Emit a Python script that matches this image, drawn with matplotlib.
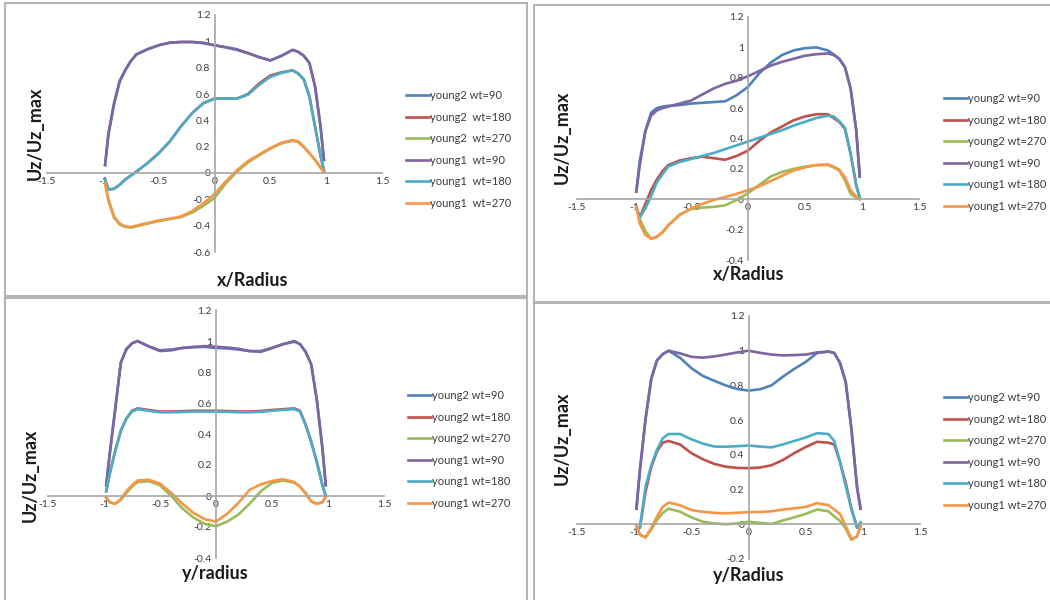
import matplotlib
matplotlib.use("Agg")
import matplotlib.pyplot as plt
from matplotlib.patches import Rectangle

plt.rcParams["font.family"] = ["Lato", "DejaVu Sans"]

# common sample positions (fraction of radius)
r = [-0.98, -0.95, -0.9, -0.85, -0.8, -0.75, -0.7, -0.6, -0.5, -0.4, -0.3, -0.2, -0.1, 0,
     0.1, 0.2, 0.3, 0.4, 0.5, 0.6, 0.7, 0.75, 0.8, 0.85, 0.9, 0.95, 0.98]

colors = ["#4F81BD", "#C0504D", "#9BBB59", "#8064A2", "#4BACC6", "#F79646"]

# --- top left: x/Radius ---
tl_y2_90 = [0.06, 0.29, 0.52, 0.69, 0.78, 0.85, 0.90, 0.94, 0.97, 0.99, 0.995, 0.995, 0.985, 0.97,
            0.955, 0.935, 0.91, 0.88, 0.855, 0.89, 0.935, 0.92, 0.89, 0.835, 0.66, 0.35, 0.10]
tl_y2_180 = [-0.05, -0.125, -0.12, -0.09, -0.05, -0.02, 0.01, 0.075, 0.15, 0.24, 0.355, 0.455, 0.53, 0.565,
             0.565, 0.565, 0.60, 0.68, 0.74, 0.765, 0.78, 0.755, 0.71, 0.58, 0.355, 0.13, 0.02]
tl_y2_270 = [-0.08, -0.21, -0.34, -0.39, -0.41, -0.415, -0.405, -0.385, -0.365, -0.35, -0.335, -0.30, -0.25, -0.19,
             -0.08, 0.01, 0.08, 0.135, 0.185, 0.225, 0.245, 0.235, 0.195, 0.15, 0.10, 0.04, 0.01]
tl_y1_90 = [0.06, 0.30, 0.53, 0.70, 0.78, 0.85, 0.90, 0.94, 0.97, 0.99, 0.995, 0.995, 0.99, 0.97,
            0.955, 0.94, 0.91, 0.88, 0.855, 0.89, 0.935, 0.92, 0.89, 0.835, 0.66, 0.35, 0.10]
tl_y1_180 = [-0.05, -0.125, -0.12, -0.09, -0.05, -0.02, 0.01, 0.075, 0.15, 0.24, 0.355, 0.455, 0.53, 0.565,
             0.565, 0.565, 0.595, 0.67, 0.73, 0.76, 0.78, 0.755, 0.71, 0.58, 0.355, 0.13, 0.02]
tl_y1_270 = [-0.08, -0.20, -0.33, -0.385, -0.405, -0.41, -0.40, -0.38, -0.36, -0.347, -0.33, -0.29, -0.23, -0.16,
             -0.065, 0.02, 0.09, 0.14, 0.19, 0.23, 0.25, 0.24, 0.20, 0.15, 0.10, 0.04, 0.01]

# --- top right: x/Radius ---
tr_y2_90 = [0.05, 0.25, 0.45, 0.57, 0.60, 0.61, 0.615, 0.62, 0.63, 0.635, 0.64, 0.645, 0.685, 0.74,
            0.83, 0.90, 0.95, 0.98, 0.995, 1.0, 0.98, 0.955, 0.925, 0.87, 0.73, 0.45, 0.15]
tr_y2_180 = [-0.05, -0.12, -0.03, 0.06, 0.13, 0.185, 0.225, 0.255, 0.27, 0.28, 0.27, 0.26, 0.285, 0.32,
             0.385, 0.44, 0.48, 0.52, 0.545, 0.56, 0.56, 0.535, 0.51, 0.465, 0.30, 0.09, 0.01]
tr_y2_270 = [-0.05, -0.13, -0.21, -0.26, -0.25, -0.215, -0.175, -0.10, -0.065, -0.055, -0.05, -0.04, -0.005, 0.04,
             0.095, 0.15, 0.18, 0.20, 0.215, 0.225, 0.225, 0.21, 0.19, 0.125, 0.035, 0.01, 0.0]
tr_y1_90 = [0.05, 0.22, 0.45, 0.55, 0.585, 0.60, 0.61, 0.63, 0.65, 0.69, 0.73, 0.76, 0.78, 0.81,
            0.845, 0.88, 0.905, 0.925, 0.945, 0.955, 0.96, 0.95, 0.925, 0.87, 0.73, 0.45, 0.15]
tr_y1_180 = [-0.05, -0.12, -0.06, 0.02, 0.11, 0.165, 0.215, 0.245, 0.265, 0.285, 0.305, 0.33, 0.355, 0.38,
             0.405, 0.43, 0.455, 0.485, 0.51, 0.535, 0.55, 0.545, 0.515, 0.47, 0.30, 0.09, 0.01]
tr_y1_270 = [-0.05, -0.16, -0.235, -0.26, -0.245, -0.22, -0.17, -0.105, -0.06, -0.03, -0.005, 0.015, 0.035, 0.06,
             0.085, 0.12, 0.155, 0.19, 0.21, 0.225, 0.23, 0.215, 0.195, 0.145, 0.06, 0.015, 0.0]

# --- bottom left: y/radius ---
bl_y2_90 = [0.07, 0.27, 0.56, 0.86, 0.945, 0.985, 1.0, 0.965, 0.94, 0.945, 0.955, 0.96, 0.962, 0.955,
            0.952, 0.945, 0.935, 0.935, 0.955, 0.98, 0.995, 0.98, 0.93, 0.85, 0.62, 0.31, 0.07]
bl_y2_180 = [0.03, 0.14, 0.29, 0.42, 0.50, 0.55, 0.565, 0.555, 0.545, 0.545, 0.547, 0.55, 0.55, 0.55,
             0.548, 0.545, 0.545, 0.548, 0.555, 0.56, 0.565, 0.55, 0.46, 0.35, 0.22, 0.07, 0.0]
bl_y2_270 = [-0.01, -0.04, -0.05, -0.025, 0.02, 0.06, 0.09, 0.095, 0.07, 0.0, -0.08, -0.14, -0.18, -0.195,
             -0.165, -0.12, -0.05, 0.03, 0.085, 0.10, 0.085, 0.06, 0.015, -0.035, -0.05, -0.04, -0.005]
bl_y1_90 = [0.07, 0.26, 0.56, 0.86, 0.95, 0.985, 1.0, 0.965, 0.935, 0.94, 0.955, 0.962, 0.967, 0.963,
            0.958, 0.95, 0.935, 0.93, 0.955, 0.98, 1.0, 0.98, 0.93, 0.85, 0.62, 0.31, 0.07]
bl_y1_180 = [0.03, 0.14, 0.29, 0.42, 0.50, 0.545, 0.56, 0.55, 0.54, 0.54, 0.542, 0.545, 0.545, 0.545,
             0.543, 0.54, 0.54, 0.543, 0.55, 0.556, 0.56, 0.545, 0.46, 0.35, 0.22, 0.07, 0.0]
bl_y1_270 = [-0.01, -0.04, -0.05, -0.02, 0.03, 0.07, 0.10, 0.105, 0.08, 0.02, -0.05, -0.11, -0.15, -0.165,
             -0.115, -0.045, 0.04, 0.075, 0.097, 0.108, 0.09, 0.06, 0.02, -0.035, -0.05, -0.04, -0.005]

# --- bottom right: y/Radius ---
br_y2_90 = [0.09, 0.31, 0.61, 0.84, 0.945, 0.98, 1.0, 0.96, 0.90, 0.855, 0.827, 0.80, 0.78, 0.77,
            0.778, 0.80, 0.85, 0.895, 0.935, 0.987, 0.995, 0.987, 0.93, 0.82, 0.55, 0.21, 0.09]
br_y2_180 = [-0.03, -0.02, 0.19, 0.33, 0.42, 0.47, 0.48, 0.46, 0.41, 0.375, 0.348, 0.332, 0.325, 0.323,
             0.327, 0.34, 0.37, 0.41, 0.445, 0.475, 0.47, 0.46, 0.36, 0.24, 0.09, -0.02, 0.01]
br_y2_270 = [-0.01, -0.06, -0.075, -0.03, 0.025, 0.065, 0.09, 0.073, 0.04, 0.015, 0.005, 0.0, 0.005, 0.015,
             0.008, 0.002, 0.022, 0.04, 0.06, 0.085, 0.075, 0.045, 0.02, -0.025, -0.09, -0.07, -0.01]
br_y1_90 = [0.09, 0.31, 0.61, 0.84, 0.945, 0.98, 1.0, 0.985, 0.965, 0.96, 0.967, 0.978, 0.99, 1.0,
            0.988, 0.978, 0.973, 0.975, 0.978, 0.99, 0.995, 0.987, 0.93, 0.82, 0.55, 0.21, 0.09]
br_y1_180 = [-0.03, -0.02, 0.22, 0.34, 0.43, 0.495, 0.52, 0.52, 0.49, 0.465, 0.448, 0.447, 0.45, 0.454,
             0.448, 0.443, 0.46, 0.48, 0.50, 0.525, 0.52, 0.48, 0.36, 0.22, 0.09, -0.02, 0.01]
br_y1_270 = [-0.01, -0.06, -0.075, -0.02, 0.045, 0.10, 0.125, 0.11, 0.082, 0.072, 0.066, 0.063, 0.066, 0.07,
             0.071, 0.075, 0.085, 0.092, 0.10, 0.122, 0.11, 0.085, 0.06, -0.01, -0.085, -0.07, -0.01]

names_tl = ["young2 wt=90", "young2  wt=180", "young2  wt=270",
            "young1  wt=90", "young1  wt=180", "young1  wt=270"]
names = ["young2 wt=90", "young2 wt=180", "young2 wt=270",
         "young1 wt=90", "young1 wt=180", "young1 wt=270"]

panels = [
    # series, labels, ylim, axes box px (x0, x1, ytop, ybot), xlabel, label pos, ylabel pos, legend pos
    ([tl_y2_90, tl_y2_180, tl_y2_270, tl_y1_90, tl_y1_180, tl_y1_270], names_tl, (-0.6, 1.2),
     (47, 382, 15, 252), "x/Radius", (253, 281), (35, 133), (406, 90)),
    ([tr_y2_90, tr_y2_180, tr_y2_270, tr_y1_90, tr_y1_180, tr_y1_270], names, (-0.4, 1.2),
     (577, 919, 17, 260), "x/Radius", (749, 275), (562, 137), (944, 93)),
    ([bl_y2_90, bl_y2_180, bl_y2_270, bl_y1_90, bl_y1_180, bl_y1_270], names, (-0.4, 1.2),
     (48, 384, 310, 558), "y/radius", (215, 574), (30, 475), (408, 390)),
    ([br_y2_90, br_y2_180, br_y2_270, br_y1_90, br_y1_180, br_y1_270], names, (-0.2, 1.2),
     (577, 920, 316, 559), "y/Radius", (749, 575), (562, 438), (944, 392)),
]

W, H = 1050, 600
fig = plt.figure(figsize=(W / 100, H / 100), dpi=100)

# panel frames
for x0, y0, x1, y1 in [(5, 3, 527, 296), (534, 5, 1060, 302), (5, 298, 527, 610), (534, 303, 1060, 610)]:
    fig.patches.append(Rectangle((x0 / W, 1 - y1 / H), (x1 - x0) / W, (y1 - y0) / H,
                                 transform=fig.transFigure, fill=False,
                                 edgecolor="#b5b5b5", linewidth=1.5))

for series, labels, ylim, box, xlab, xlpos, ylpos, legpos in panels:
    x0, x1, yt, yb = box
    ax = fig.add_axes([x0 / W, 1 - yb / H, (x1 - x0) / W, (yb - yt) / H])
    ax.patch.set_alpha(0)
    for vals, lab, c in zip(series, labels, colors):
        ax.plot(r, vals, color=c, linewidth=1.9, label=lab)
    ax.set_xlim(-1.5, 1.5)
    ax.set_ylim(*ylim)
    ax.set_xticks([-1.5, -1, -0.5, 0, 0.5, 1, 1.5])
    ax.set_xticklabels(["-1.5", "-1", "-0.5", "0", "0.5", "1", "1.5"])
    yt_vals = [v / 10 for v in range(int(round(ylim[0] * 10)), 13, 2)]
    ax.set_yticks(yt_vals)
    ax.set_yticklabels(["0" if abs(v) < 1e-9 else ("1" if v == 1 else f"{v:g}") for v in yt_vals])
    for s in ["top", "right"]:
        ax.spines[s].set_visible(False)
    ax.spines["left"].set_position(("data", 0))
    ax.spines["bottom"].set_position(("data", 0))
    for s in ["left", "bottom"]:
        ax.spines[s].set_color("#a6a6a6")
        ax.spines[s].set_linewidth(1.2)
    ax.tick_params(length=0, labelsize=7.5, labelcolor="#3b3b3b", pad=3)
    fig.text(xlpos[0] / W, 1 - xlpos[1] / H, xlab, fontsize=13, fontweight="bold",
             ha="center", va="center", color="#1a1a1a")
    fig.text(ylpos[0] / W, 1 - ylpos[1] / H, "Uz/Uz_max", fontsize=13, fontweight="bold",
             rotation=90, ha="center", va="center", color="#1a1a1a")
    ax.legend(loc="upper left", bbox_to_anchor=(legpos[0] / W, 1 - legpos[1] / H),
              bbox_transform=fig.transFigure, frameon=False, fontsize=8,
              handlelength=2.1, handletextpad=0.1, labelspacing=0.95, borderaxespad=0,
              borderpad=0, labelcolor="#3b3b3b")

fig.savefig("out.png", dpi=100)
